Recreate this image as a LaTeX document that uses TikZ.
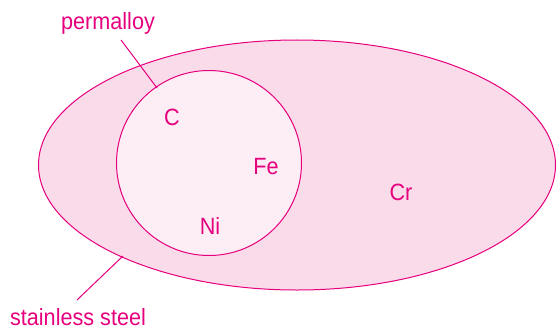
\documentclass[tikz,border=0pt]{standalone}
\usepackage{fontspec}
\setmainfont{Liberation Sans}
\definecolor{mag}{HTML}{E6007E}
\definecolor{outerfill}{HTML}{F9DBE9}
\definecolor{innerfill}{HTML}{FCEEF4}
\begin{document}
\begin{tikzpicture}[x=1pt,y=-1pt,
  lbl/.style={text=mag,font=\fontsize{23.5}{26}\selectfont,inner sep=0pt,xscale=0.92},
  shapeline/.style={draw=mag,line width=1pt},
  leader/.style={draw=mag,line width=1pt}]
\useasboundingbox (0,0) rectangle (556,329);
\path[shapeline,fill=outerfill] (297,165) ellipse [x radius=258.5, y radius=125];
\path[shapeline,fill=innerfill] (209,163) circle [radius=92.5];
\node[lbl,anchor=base] (perm) at (108,30) {permalloy};
\node[lbl,anchor=base] (ss) at (78,325) {stainless steel};
\node[lbl] (c) at (172,117) {C};
\node[lbl] (fe) at (266,167) {Fe};
\node[lbl] (ni) at (210,226) {Ni};
\node[lbl] (cr) at (401,192) {Cr};
\coordinate (p1) at (121,40);
\coordinate (p2) at (157,88);
\coordinate (s1) at (77,300);
\coordinate (s2) at (123,256);
\draw[leader] (p1) -- (p2);
\draw[leader] (s1) -- (s2);
\end{tikzpicture}
\end{document}
